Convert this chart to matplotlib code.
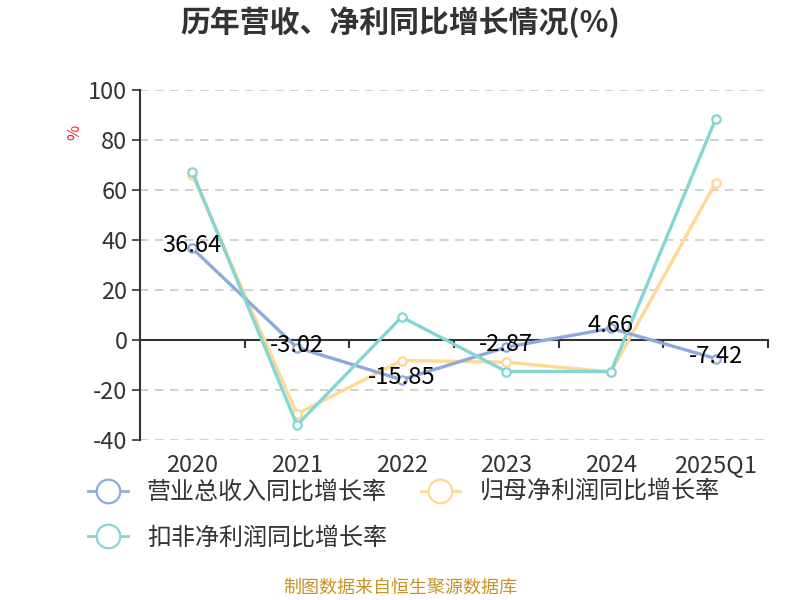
import matplotlib
matplotlib.use("Agg")
from matplotlib import pyplot as plt
from matplotlib.lines import Line2D

plt.rcParams["font.family"] = ["Noto Sans CJK SC", "DejaVu Sans"]

# chart data
categories = ["2020", "2021", "2022", "2023", "2024", "2025Q1"]
revenue_growth = [36.64, -3.02, -15.85, -2.87, 4.66, -7.42]
parent_profit_growth = [66.0, -29.6, -8.2, -8.9, -12.8, 63.0]
deducted_profit_growth = [67.2, -34.0, 9.2, -12.6, -12.6, 88.4]
series_names = ["营业总收入同比增长率", "归母净利润同比增长率", "扣非净利润同比增长率"]
y_ticks = [-40, -20, 0, 20, 40, 60, 80, 100]

colors = ["#8eaadc", "#ffd893", "#84d5d5"]
text_color = "#333333"

fig = plt.figure(figsize=(8, 6), dpi=100)
ax = fig.add_axes([0.175, 1 - 440 / 600, 0.785, 350 / 600])

x = list(range(len(categories)))
all_series = [revenue_growth, parent_profit_growth, deducted_profit_growth]
# teal on top, like the reference
for vals, color, z in zip(all_series, colors, [3, 2, 4]):
    ax.plot(x, vals, color=color, lw=2.4, marker="o", ms=6,
            mfc="white", mec=color, mew=1.6, zorder=z)

# value labels only for revenue growth
for xi, v in zip(x, revenue_growth):
    ax.text(xi, v + 1.0, f"{v:.2f}", ha="center", va="center",
            fontsize=17, color="black", zorder=6)

ax.set_xlim(-0.5, len(categories) - 0.5)
ax.set_ylim(-40, 100)
ax.set_yticks(y_ticks)
ax.set_yticklabels([str(t) for t in y_ticks], fontsize=17, color=text_color)
ax.tick_params(axis="y", length=6, width=1.2, color=text_color, pad=3)

ax.set_xticks(x)
ax.set_xticklabels(categories, fontsize=17, color=text_color)
ax.tick_params(axis="x", length=0, pad=10)

for yt in y_ticks:
    if yt != 0:
        ax.axhline(yt, color="#c8c8c8", lw=1.2, ls=(0, (5, 4)), zorder=0)

for s in ["top", "right", "bottom"]:
    ax.spines[s].set_visible(False)
ax.spines["left"].set_color(text_color)
ax.spines["left"].set_linewidth(1.5)

# category axis drawn at zero with ticks between bands
zero_ax = ax.secondary_xaxis(40 / 140)
zero_ax.set_xticks([i - 0.5 for i in range(len(categories) + 1)])
zero_ax.set_xticklabels([])
zero_ax.tick_params(axis="x", length=6, width=1.5, color=text_color, direction="out")
zero_ax.spines["bottom"].set_color(text_color)
zero_ax.spines["bottom"].set_linewidth(1.5)

fig.text(0.5, 1 - 22 / 600, "历年营收、净利同比增长情况(%)", ha="center", va="center",
         fontsize=21.5, fontweight="bold", color=text_color)
fig.text(75 / 800, 1 - 132 / 600, "%", rotation=90, ha="center", va="center",
         fontsize=12, color="#ff2020")

handles = [Line2D([0], [0], color=c, lw=2, marker="o", ms=17, mfc="white",
                  mec=c, mew=1.6) for c in colors]
# reorder so the legend fills row by row
order = [0, 2, 1]
fig.legend([handles[i] for i in order], [series_names[i] for i in order],
           loc="upper left", bbox_to_anchor=(88 / 800, 1 - 479 / 600),
           ncol=2, frameon=False, fontsize=17.3, labelcolor=text_color,
           borderpad=0, borderaxespad=0,
           handlelength=1.65, handletextpad=0.8, columnspacing=1.4, labelspacing=0.8)

fig.text(0.5, 1 - 588 / 600, "制图数据来自恒生聚源数据库", ha="center", va="center",
         fontsize=13, color="#c8922a")

fig.savefig("out.png", dpi=100)
